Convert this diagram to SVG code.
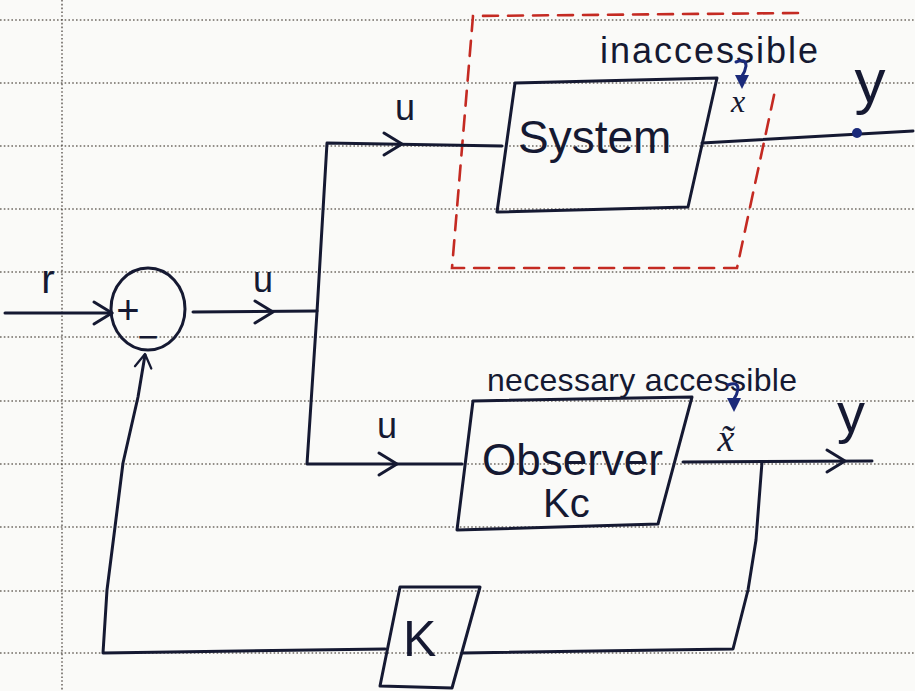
<svg xmlns="http://www.w3.org/2000/svg" width="915" height="691" viewBox="0 0 915 691">
  <defs>
    <style>
      .paper { stroke: #4d463e; stroke-width: 1.6; stroke-dasharray: 1.6 2.2; fill: none; opacity: 0.8; }
      .ink { stroke: #151932; stroke-width: 3; fill: none; stroke-linecap: round; stroke-linejoin: round; }
      .box { stroke: #151932; stroke-width: 3; fill: none; stroke-linejoin: round; }
      .dash { stroke: #c42a22; stroke-width: 2.6; fill: none; stroke-dasharray: 15 10; stroke-linecap: round; }
      .hand { font-family: "Liberation Sans", "DejaVu Sans", sans-serif; fill: #151932; }
      .math { font-family: "Liberation Serif", "DejaVu Serif", serif; font-style: italic; fill: #151932; }
    </style>
    <!-- open chevron pointing right, tip at origin -->
    <path id="chev" d="M -18 -11 L 0 0 L -18 11" class="ink"/>
    <!-- small hooked down-arrow used as a pointer above x -->
    <g id="pointer">
      <path d="M -6 -27 Q 4 -31 4 -23 Q 3 -17 0 -13" stroke="#1b2a7a" stroke-width="3" fill="none" stroke-linecap="round"/>
      <path d="M -7 -14 L 7 -14 L 0 0 Z" fill="#1b2a7a"/>
    </g>
  </defs>

  <!-- paper -->
  <rect x="0" y="0" width="915" height="691" fill="#fafaf8"/>
  <g id="ruling">
    <path class="paper" d="M0 20H915M0 83H915M0 146H915M0 209H915M0 272H915M0 337H915M0 401H915M0 464H915M0 527H915M0 591H915M0 653H915"/>
    <path class="paper" d="M62 0V691"/>
  </g>

  <!-- boundary around the inaccessible plant -->
  <g id="plant-boundary">
    <path class="dash" d="M 798 13 L 473 16 L 452 268 L 737 268 L 776 86"/>
  </g>

  <!-- connectors -->
  <g id="connectors">
    <!-- reference input r -->
    <path class="ink" d="M 5 313 L 112 313"/>
    <use href="#chev" transform="translate(112 313)"/>
    <!-- summer output u -->
    <path class="ink" d="M 193 312 L 317 311"/>
    <use href="#chev" transform="translate(273 312)"/>
    <!-- branch to system and observer -->
    <path class="ink" d="M 502 146 L 327 143 L 317 312 L 307 464 L 462 464"/>
    <use href="#chev" transform="translate(402 144)"/>
    <use href="#chev" transform="translate(397 464)"/>
    <!-- system output y -->
    <path class="ink" d="M 702 143 L 913 131"/>
    <!-- observer output -->
    <path class="ink" d="M 683 462 L 872 461"/>
    <use href="#chev" transform="translate(845 461)"/>
    <!-- feedback through K -->
    <path class="ink" d="M 762 462 L 756 540 L 748 590 L 733 649 L 463 653"/>
    <path class="ink" d="M 385 649 L 103 653 L 107 590 L 115 527 L 123 463 L 138 397 L 145 355"/>
    <use href="#chev" transform="translate(145 354) rotate(-82) scale(0.75)"/>
  </g>

  <!-- summing junction -->
  <g id="summer">
    <ellipse class="ink" cx="148" cy="309" rx="37" ry="41"/>
    <text class="hand" x="128" y="324" font-size="40" text-anchor="middle">+</text>
    <text class="hand" x="148" y="349" font-size="36" text-anchor="middle">−</text>
  </g>

  <!-- plant -->
  <g id="system">
    <path class="box" d="M 515 83 L 717 78 L 688 207 L 497 212 Z"/>
    <text class="hand" x="518" y="153" font-size="46">System</text>
  </g>

  <!-- observer -->
  <g id="observer">
    <path class="box" d="M 473 401 L 692 397 L 658 524 L 457 530 Z"/>
    <text class="hand" x="482" y="475" font-size="44">Observer</text>
    <text class="hand" x="543" y="517" font-size="40">Kc</text>
  </g>

  <!-- state feedback gain -->
  <g id="gain-k">
    <path class="box" d="M 400 587 L 480 587 L 452 688 L 380 686 Z"/>
    <text class="hand" x="403" y="656" font-size="50">K</text>
  </g>

  <!-- signal labels -->
  <g id="labels">
    <text class="hand" x="48" y="293" font-size="40" text-anchor="middle">r</text>
    <text class="hand" x="263" y="292" font-size="36" text-anchor="middle">u</text>
    <text class="hand" x="405" y="120" font-size="36" text-anchor="middle">u</text>
    <text class="hand" x="387" y="438" font-size="36" text-anchor="middle">u</text>
    <text class="hand" x="870" y="102" font-size="62" text-anchor="middle">y</text>
    <text class="hand" x="851" y="432" font-size="56" text-anchor="middle">y</text>
    <circle cx="857" cy="133" r="5" fill="#1b2a7a"/>
    <text class="hand" x="600" y="63" font-size="36" textLength="218" lengthAdjust="spacing">inaccessible</text>
    <text class="hand" x="487" y="391" font-size="32" textLength="310" lengthAdjust="spacing">necessary accessible</text>
    <use href="#pointer" transform="translate(742 89)"/>
    <text class="math" x="738" y="112" font-size="32" text-anchor="middle">x</text>
    <use href="#pointer" transform="translate(734 412)"/>
    <text class="math" x="726" y="451" font-size="38" text-anchor="middle">x̃</text>
  </g>
</svg>
